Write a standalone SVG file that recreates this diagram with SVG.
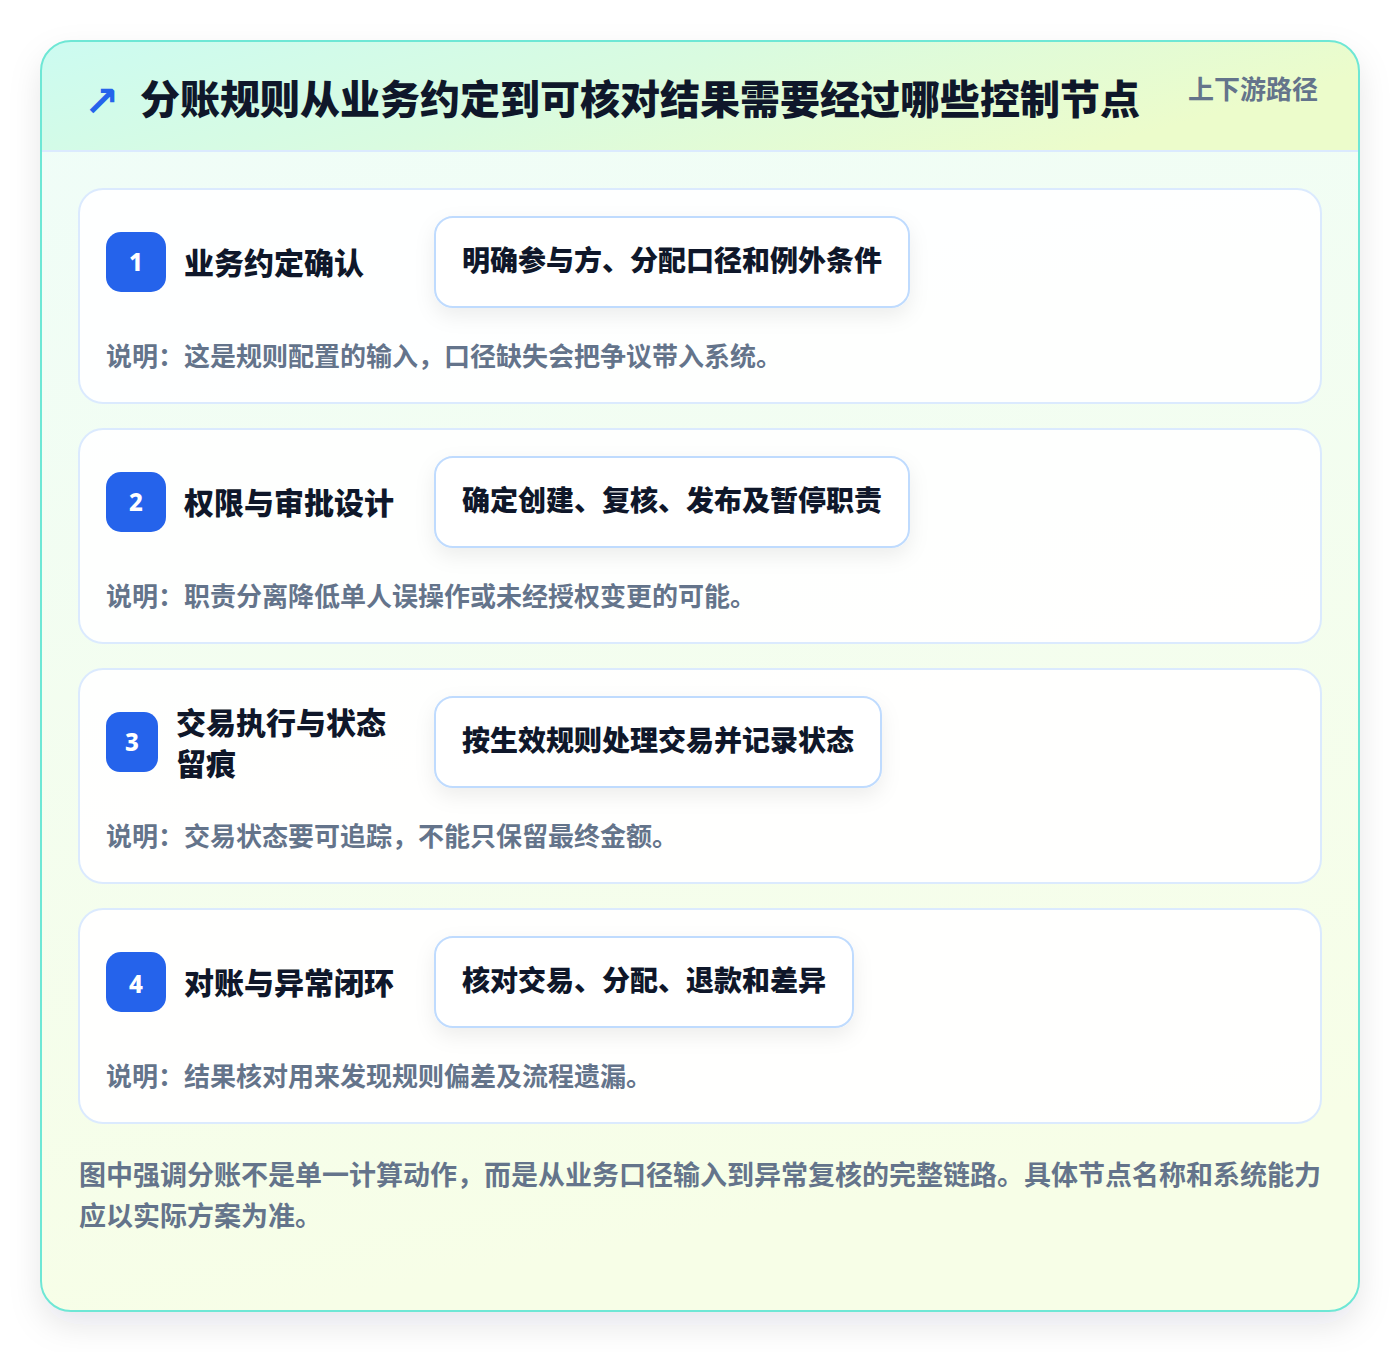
<svg xmlns="http://www.w3.org/2000/svg" width="1400" height="1352" viewBox="0 0 1400 1352">
<defs>
<linearGradient id="hdr" x1="0" y1="0" x2="1" y2="0.3">
<stop offset="0" stop-color="#ccfbf1"/>
<stop offset="0.5" stop-color="#d9fbe0"/>
<stop offset="1" stop-color="#ecfccb"/>
</linearGradient>
<linearGradient id="body" x1="0" y1="0" x2="0.2" y2="1">
<stop offset="0" stop-color="#effdf9"/>
<stop offset="1" stop-color="#f7fee7"/>
</linearGradient>
<clipPath id="cardClip"><rect x="41" y="41" width="1318" height="1270" rx="30"/></clipPath>
<filter id="outerShadow" x="-10%" y="-10%" width="120%" height="120%">
<feDropShadow dx="0" dy="14" stdDeviation="16" flood-color="#0f172a" flood-opacity="0.10"/>
</filter>
<filter id="pillShadow" x="-20%" y="-40%" width="140%" height="190%">
<feDropShadow dx="0" dy="8" stdDeviation="10" flood-color="#0f172a" flood-opacity="0.07"/>
</filter>
</defs>
<style>
.t{font-family:"Noto Sans CJK SC","Noto Sans",sans-serif;}
.title{font-size:40px;font-weight:900;fill:#0f172a;}
.sub{font-size:26px;font-weight:700;fill:#64748b;}
.step{fill:#ffffff;fill-opacity:0.92;stroke:#dbeafe;stroke-width:2;}
.badge{fill:#2563eb;}
.num{font-family:"Noto Sans","Open Sans",sans-serif;font-size:24px;font-weight:800;fill:#ffffff;}
.lbl{font-size:30px;font-weight:800;fill:#0f172a;}
.pill{fill:#ffffff;stroke:#bfdbfe;stroke-width:2;}
.ptxt{font-size:28px;font-weight:800;fill:#0f172a;}
.desc{font-size:26px;font-weight:700;fill:#64748b;}
.foot{font-size:27px;font-weight:700;fill:#64748b;}
</style>
<rect width="1400" height="1352" fill="#ffffff"/>
<g id="frame">
<rect x="41" y="41" width="1318" height="1270" rx="30" fill="url(#body)" filter="url(#outerShadow)"/>
<g clip-path="url(#cardClip)">
<rect x="41" y="41" width="1318" height="110" fill="url(#hdr)"/>
<line x1="41" y1="151" x2="1359" y2="151" stroke="#dbeafe" stroke-width="2"/>
</g>
<rect x="41" y="41" width="1318" height="1270" rx="30" fill="none" stroke="#6ee7d5" stroke-width="2"/>
</g>
<g id="header">
<text x="84" y="116" font-family="DejaVu Sans,sans-serif" font-size="42" font-weight="bold" fill="#2563eb">↗</text>
<text class="t title" x="140" y="114">分账规则从业务约定到可核对结果需要经过哪些控制节点</text>
<text class="t sub" x="1188" y="99">上下游路径</text>
</g>
<g id="connectors"></g>
<g id="step1">
<rect class="step" x="79" y="189" width="1242" height="214" rx="24"/>
<rect class="badge" x="106" y="232" width="60" height="60" rx="15"/>
<text class="num" x="136" y="271" text-anchor="middle">1</text>
<text class="t lbl" x="184" y="274">业务约定确认</text>
<rect class="pill" x="435" y="217" width="474" height="90" rx="18" filter="url(#pillShadow)"/>
<text class="t ptxt" x="462" y="271">明确参与方、分配口径和例外条件</text>
<text class="t desc" x="106" y="366">说明：这是规则配置的输入，口径缺失会把争议带入系统。</text>
</g>
<g id="step2">
<rect class="step" x="79" y="429" width="1242" height="214" rx="24"/>
<rect class="badge" x="106" y="472" width="60" height="60" rx="15"/>
<text class="num" x="136" y="511" text-anchor="middle">2</text>
<text class="t lbl" x="184" y="514">权限与审批设计</text>
<rect class="pill" x="435" y="457" width="474" height="90" rx="18" filter="url(#pillShadow)"/>
<text class="t ptxt" x="462" y="511">确定创建、复核、发布及暂停职责</text>
<text class="t desc" x="106" y="606">说明：职责分离降低单人误操作或未经授权变更的可能。</text>
</g>
<g id="step3">
<rect class="step" x="79" y="669" width="1242" height="214" rx="24"/>
<rect class="badge" x="106" y="712" width="52" height="60" rx="14"/>
<text class="num" x="132" y="751" text-anchor="middle">3</text>
<text class="t lbl" x="176" y="734">交易执行与状态</text>
<text class="t lbl" x="176" y="775">留痕</text>
<rect class="pill" x="435" y="697" width="446" height="90" rx="18" filter="url(#pillShadow)"/>
<text class="t ptxt" x="462" y="751">按生效规则处理交易并记录状态</text>
<text class="t desc" x="106" y="846">说明：交易状态要可追踪，不能只保留最终金额。</text>
</g>
<g id="step4">
<rect class="step" x="79" y="909" width="1242" height="214" rx="24"/>
<rect class="badge" x="106" y="952" width="60" height="60" rx="15"/>
<text class="num" x="136" y="993" text-anchor="middle">4</text>
<text class="t lbl" x="184" y="994">对账与异常闭环</text>
<rect class="pill" x="435" y="937" width="418" height="90" rx="18" filter="url(#pillShadow)"/>
<text class="t ptxt" x="462" y="991">核对交易、分配、退款和差异</text>
<text class="t desc" x="106" y="1086">说明：结果核对用来发现规则偏差及流程遗漏。</text>
</g>
<g id="footer">
<text class="t foot" x="79" y="1185">图中强调分账不是单一计算动作，而是从业务口径输入到异常复核的完整链路。具体节点名称和系统能力</text>
<text class="t foot" x="79" y="1226">应以实际方案为准。</text>
</g>
</svg>
